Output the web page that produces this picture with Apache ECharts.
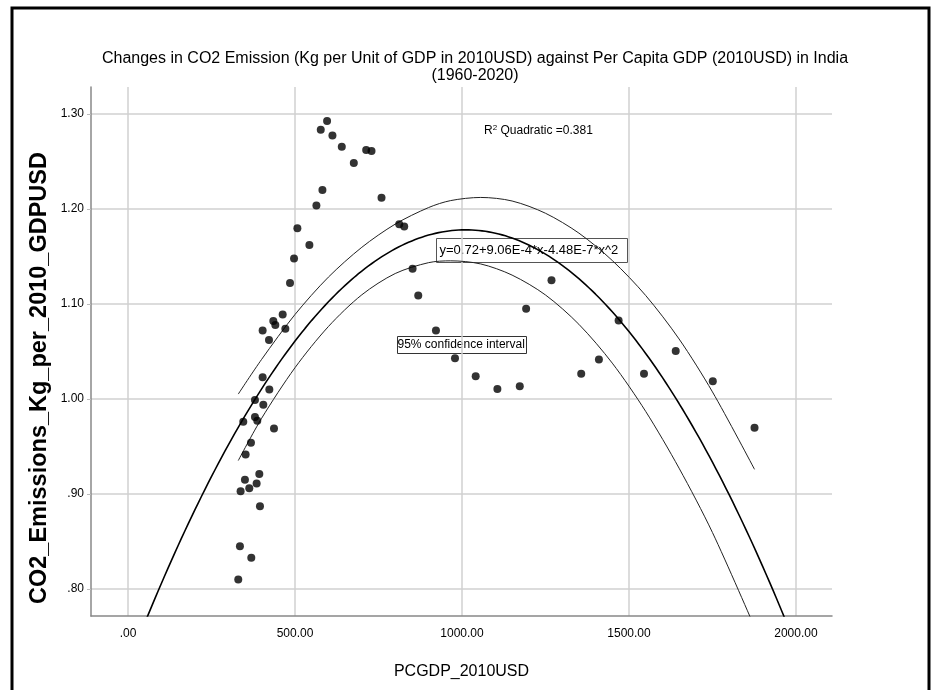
<!DOCTYPE html>
<html>
<head>
<meta charset="utf-8">
<script src="https://cdn.jsdelivr.net/npm/echarts@6/dist/echarts.min.js"></script>
<style>
html,body{margin:0;padding:0;background:#fff;}
#chart{width:931px;height:690px;}
</style>
</head>
<body>
<div id="chart"></div>
<script>
// PCGDP_2010USD (x) and CO2 emissions kg per 2010 GDP USD (y)
const pcgdp = [852, 869, 1268, 1192, 922, 979, 1041, 1106, 1173, 1357, 1410, 1469, 1545, 1640, 1751, 1876,
  812, 827, 759, 596, 577, 612, 640, 713, 729, 676, 582, 564, 507, 543, 497, 485,
  463, 435, 441, 403, 471, 422, 403, 423, 380, 405, 345, 380, 387, 437, 368,
  352, 393, 350, 385, 363, 337, 395, 335, 369, 330];
const co2 = [1.137, 1.109, 1.125, 1.095, 1.072, 1.043, 1.024, 1.0105, 1.0135, 1.0265, 1.0415, 1.0826, 1.0265, 1.0505, 1.0188, 0.9697,
  1.184, 1.1815, 1.2118, 1.2926, 1.2834, 1.2774, 1.2654, 1.262, 1.261, 1.2485, 1.220, 1.2037, 1.1797, 1.162, 1.148, 1.122,
  1.089, 1.082, 1.078, 1.072, 1.074, 1.062, 1.023, 1.010, 0.999, 0.994, 0.976, 0.981, 0.977, 0.969, 0.954,
  0.9415, 0.921, 0.915, 0.911, 0.906, 0.903, 0.887, 0.845, 0.833, 0.810];
// Quadratic model printed on the chart
const coefB0 = 0.72, coefB1 = 9.06e-4, coefB2 = -4.48e-7;
const rSquared = '0.381';
// Half-width of the 95% confidence band around the fit
const bandX    = [330,   400,   500,   600,   700,   800,   900,   966,    1056,  1150,  1250,  1350,  1450,  1550,  1650,  1750,  1876];
const bandHalf = [0.035, 0.031, 0.028, 0.026, 0.025, 0.026, 0.029, 0.0317, 0.035, 0.039, 0.043, 0.048, 0.054, 0.061, 0.068, 0.074, 0.083];
const xTicks = [0, 500, 1000, 1500, 2000];
const yTicks = [0.8, 0.9, 1.0, 1.1, 1.2, 1.3];

const points = pcgdp.map((x, i) => [x, co2[i]]);
const fitY = x => coefB0 + coefB1 * x + coefB2 * x * x;
const fitLine = [];
for (let x = -120; x <= 2120; x += 10) fitLine.push([x, fitY(x)]);
const upper = bandX.map((x, i) => [x, fitY(x) + bandHalf[i]]);
const lower = bandX.map((x, i) => [x, fitY(x) - bandHalf[i]]);

const FONT = '"Liberation Sans", Arial, sans-serif';
const chart = echarts.init(document.getElementById('chart'));
chart.setOption({
  animation: false,
  backgroundColor: '#fff',
  title: {text: 'Changes in CO2 Emission (Kg per Unit of GDP in 2010USD) against Per Capita GDP (2010USD) in India\n(1960-2020)',
    left: 470, top: 45, textAlign: 'center',
    textStyle: {fontFamily: FONT, fontSize: 16, fontWeight: 'normal', color: '#000', lineHeight: 17}},
  grid: {left: 91, top: 87, right: 99, bottom: 74},
  xAxis: {type: 'value', min: -111, max: 2108, splitNumber: 4,
    name: 'PCGDP_2010USD', nameLocation: 'middle', nameGap: 48,
    nameTextStyle: {fontFamily: FONT, fontSize: 16, color: '#000'},
    axisLine: {onZero: false, lineStyle: {color: '#888', width: 1.5}},
    axisTick: {show: false},
    splitLine: {show: true, showMinLine: false, showMaxLine: false, lineStyle: {color: '#d0d0d0', width: 1.5}},
    axisLabel: {fontFamily: FONT, fontSize: 12, color: '#000', margin: 12, showMinLabel: false, showMaxLabel: false,
      formatter: v => xTicks.includes(v) ? (v === 0 ? '.00' : v.toFixed(2)) : ''}},
  yAxis: {type: 'value', min: 0.7716, max: 1.3284, splitNumber: 6,
    axisLine: {show: true, onZero: false, lineStyle: {color: '#888', width: 1.5}},
    axisTick: {show: true, length: 4, lineStyle: {color: '#bbb'}},
    splitLine: {show: true, showMinLine: false, showMaxLine: false, lineStyle: {color: '#d0d0d0', width: 1.5}},
    axisLabel: {fontFamily: FONT, fontSize: 12, color: '#000', margin: 7, showMinLabel: false, showMaxLabel: false,
      formatter: v => {const m = yTicks.find(t => Math.abs(t - v) < 1e-6); return m === undefined ? '' : m.toFixed(2).replace(/^0/, '');}}},
  series: [
    {type: 'line', data: fitLine, showSymbol: false, lineStyle: {color: '#000', width: 1.6}, z: 3, clip: true},
    {type: 'line', data: upper, showSymbol: false, smooth: 0.3, lineStyle: {color: '#222', width: 1}, z: 3, clip: true},
    {type: 'line', data: lower, showSymbol: false, smooth: 0.3, lineStyle: {color: '#222', width: 1}, z: 3, clip: true},
    {type: 'scatter', data: points, symbol: 'circle', symbolSize: 8, itemStyle: {color: '#000'}, z: 4}
  ],
  graphic: [
    {type: 'rect', shape: {x: 12, y: 8, width: 917, height: 700}, style: {fill: 'none', stroke: '#000', lineWidth: 3}, z: 10},
    {type: 'text', x: 40, y: 378, rotation: Math.PI / 2, z: 10,
      style: {text: 'CO2_Emissions_Kg_per_2010_GDPUSD', align: 'center', verticalAlign: 'middle',
        textAlign: 'center', textVerticalAlign: 'middle',
        font: 'bold 23.5px "Liberation Sans", Arial, sans-serif', fill: '#000'}},
    {type: 'text', left: 484, top: 124, z: 10, style: {text: 'R{sup|2} Quadratic =' + rSquared,
      rich: {sup: {fontSize: 8, verticalAlign: 'top', padding: [0, 0, 6, 0], fontFamily: FONT, fill: '#000'}},
      fontFamily: FONT, fontSize: 12, fill: '#000'}},
    {type: 'group', left: 436, top: 238, z: 10, children: [
      {type: 'rect', shape: {x: 0, y: 0, width: 191, height: 24}, style: {fill: '#fff', stroke: '#555', lineWidth: 1}},
      {type: 'text', x: 3, y: 5, style: {text: 'y=0.72+9.06E-4*x-4.48E-7*x^2', fontFamily: FONT, fontSize: 13, fill: '#000'}}
    ]},
    {type: 'group', left: 397, top: 336, z: 10, children: [
      {type: 'rect', shape: {x: 0, y: 0, width: 129, height: 17}, style: {fill: '#fff', stroke: '#333', lineWidth: 1}},
      {type: 'text', x: 0, y: 2, style: {text: '95% confidence interval', fontFamily: FONT, fontSize: 12, fill: '#000'}}
    ]}
  ]
});
</script>
</body>
</html>
